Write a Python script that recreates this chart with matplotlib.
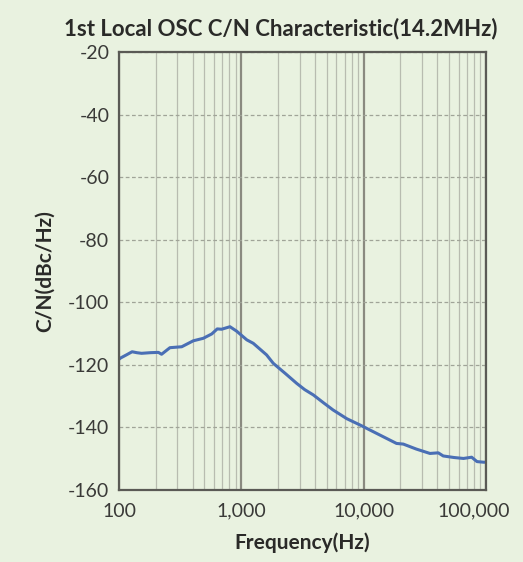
# 1st Local OSC C/N characteristic

import matplotlib.pyplot as plt
import matplotlib.transforms as mtrans
from matplotlib.ticker import FixedLocator, FuncFormatter, NullFormatter

plt.rcParams['axes.unicode_minus'] = False

freq = [100, 103, 115, 128, 140, 153, 180, 210, 223, 261, 326, 405, 489, 574,
        636, 691, 808, 915, 1110, 1253, 1610, 1827, 2300, 2838, 3300, 3884,
        4700, 5630, 7300, 9350, 12800, 18600, 21100, 27000, 34900, 40800,
        44800, 55000, 65600, 76500, 84600, 95800, 100000]
cn = [-118.2, -117.8, -116.8, -115.8, -116.1, -116.3, -116.1, -116.0, -116.6,
      -114.5, -114.2, -112.3, -111.5, -110.1, -108.5, -108.6, -107.8, -109.2,
      -112.0, -113.1, -116.8, -119.5, -122.8, -125.9, -127.9, -129.6, -132.1,
      -134.4, -137.2, -139.2, -141.9, -145.1, -145.3, -146.9, -148.3, -148.1,
      -149.1, -149.6, -149.9, -149.5, -150.9, -151.1, -151.1]

yticks = [-20, -40, -60, -80, -100, -120, -140, -160]
xticks = [100, 1000, 10000, 100000]

bg = "#e9f2e0"
font = ["Lato", "DejaVu Sans"]

fig = plt.figure(figsize=(5.23, 5.62), dpi=100, facecolor=bg)
ax = fig.add_axes([0.2275, 0.128, 0.7015, 0.7795])
ax.set_facecolor(bg)

ax.plot(freq, cn, color="#4a6fb5", lw=2.2)

ax.set_xscale("log")
ax.set_xlim(100, 100000)
ax.set_ylim(-160, -20)

ax.xaxis.set_major_locator(FixedLocator(xticks))
ax.xaxis.set_major_formatter(FuncFormatter(lambda v, p: f"{int(v):,}"))
minors = [m * d for d in (100, 1000, 10000) for m in range(2, 10)]
ax.xaxis.set_minor_locator(FixedLocator(minors))
ax.xaxis.set_minor_formatter(NullFormatter())
ax.set_yticks(yticks)

ax.grid(True, which="major", axis="x", color="#8a8a80", lw=1.6)
ax.grid(True, which="minor", axis="x", color="#b8bcb0", lw=0.9)
ax.grid(True, which="major", axis="y", color="#a0a498", lw=0.9, ls=(0, (3, 2)))

for s in ax.spines.values():
    s.set_color("#5a5a55")
    s.set_linewidth(1.6)

ax.tick_params(which="both", length=0, labelsize=14, labelcolor="#3a3a38")
ax.tick_params(axis="x", pad=9)
ax.tick_params(axis="y", pad=7)
for lab in ax.get_xticklabels() + ax.get_yticklabels():
    lab.set_family(font)

# last x label sits inside, as in the original
last = ax.get_xticklabels()[-1]
last.set_transform(last.get_transform() +
                   mtrans.ScaledTranslation(-0.12, 0, fig.dpi_scale_trans))

ax.set_title("1st Local OSC C/N Characteristic(14.2MHz)", family=font,
             fontsize=16, fontweight="bold", color="#2a2a28", pad=12, x=0.44)
ax.set_xlabel("Frequency(Hz)", family=font, fontsize=15, fontweight="bold",
              color="#2a2a28", labelpad=9)
ax.set_ylabel("C/N(dBc/Hz)", family=font, fontsize=15, fontweight="bold",
              color="#2a2a28", labelpad=9)

fig.savefig("out.png", dpi=100, facecolor=bg)
